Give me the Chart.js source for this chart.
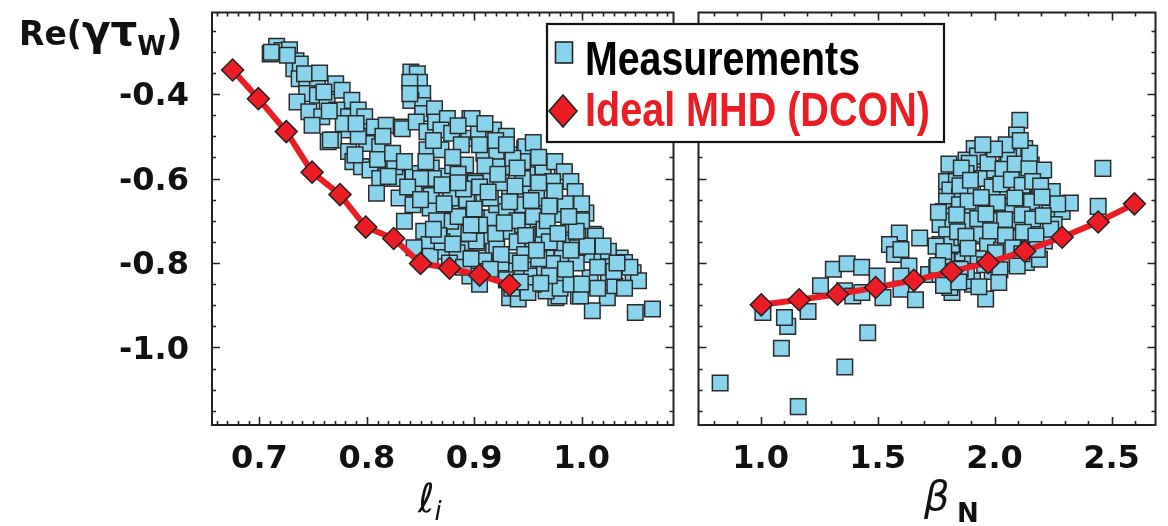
<!DOCTYPE html>
<html>
<head>
<meta charset="utf-8">
<script src="https://cdn.jsdelivr.net/npm/chart.js@4.4.1/dist/chart.umd.min.js"></script>
<style>
  html, body { margin: 0; padding: 0; background: #fff; }
  #wrap { position: relative; width: 1168px; height: 526px; overflow: hidden; }
  canvas { position: absolute; top: 0; }
  #left { left: 0; }
  #right { left: 686px; }
  #overlay { position: absolute; left: 0; top: 0; pointer-events: none; }
</style>
</head>
<body>
<div id="wrap">
  <canvas id="left" width="686" height="526"></canvas>
  <canvas id="right" width="482" height="526"></canvas>
  <svg id="overlay" width="1168" height="526">
    <text x="19" y="45" font-family="DejaVu Sans" font-weight="bold" font-size="33" fill="#111">Re(<tspan font-size="42">γτ</tspan><tspan font-size="26" dy="10">W</tspan><tspan font-size="36" dy="-10">)</tspan></text>
    <text x="418" y="512" font-family="DejaVu Sans" font-style="italic" font-size="40" fill="#111">ℓ<tspan font-size="26" dy="8">i</tspan></text>
    <text x="924" y="510" font-family="DejaVu Sans" font-style="italic" font-size="40" fill="#111">β</text>
    <text x="957" y="522" font-family="DejaVu Sans" font-weight="bold" font-size="26" fill="#111">N</text>
    <rect x="547" y="24" width="397" height="118" fill="#fff" stroke="#111" stroke-width="2.2"/>
    <rect x="555.5" y="42" width="17" height="21" fill="#89D3EC" stroke="#222" stroke-width="1.6"/>
    <polygon points="563,95 577,111 563,127 549,111" fill="#EC1C24" stroke="#222" stroke-width="1.6"/>
    <text x="585" y="75" textLength="275" lengthAdjust="spacingAndGlyphs" font-family="Liberation Sans, Arial, sans-serif" font-weight="bold" font-size="48" fill="#000">Measurements</text>
    <text x="585" y="126" textLength="345" lengthAdjust="spacingAndGlyphs" font-family="Liberation Sans, Arial, sans-serif" font-weight="bold" font-size="48" fill="#EC1C24">Ideal MHD (DCON)</text>
  </svg>
</div>
<script>
// axes
const yTicks = [-1.0, -0.8, -0.6, -0.4];
const xTicksLeft = [0.7, 0.8, 0.9, 1.0];
const xTicksRight = [1.0, 1.5, 2.0, 2.5];

// ideal MHD (DCON) curves
const dconLeftX = [0.675, 0.699, 0.725, 0.749, 0.775, 0.799, 0.825, 0.850, 0.877, 0.905, 0.933];
const dconLeftY = [-0.343, -0.411, -0.489, -0.585, -0.638, -0.715, -0.742, -0.801, -0.812, -0.829, -0.852];
const dconRightX = [1.003, 1.165, 1.329, 1.492, 1.655, 1.816, 1.973, 2.129, 2.289, 2.443, 2.598];
const dconRightY = [-0.899, -0.887, -0.874, -0.858, -0.841, -0.820, -0.799, -0.772, -0.739, -0.703, -0.660];

// measurements vs li  [li, Re(gamma tau_w)]
const measLeft = [
  [0.710,-0.305],[0.716,-0.287],[0.721,-0.297],[0.728,-0.295],[0.734,-0.321],[0.732,-0.340],[0.738,-0.329],
  [0.737,-0.364],[0.744,-0.368],[0.754,-0.376],[0.744,-0.399],[0.735,-0.419],[0.754,-0.403],[0.746,-0.442],
  [0.763,-0.419],[0.771,-0.376],[0.777,-0.391],[0.786,-0.415],[0.772,-0.438],[0.758,-0.454],[0.749,-0.474],
  [0.783,-0.454],[0.792,-0.438],[0.798,-0.454],[0.783,-0.485],[0.769,-0.509],[0.764,-0.513],[0.783,-0.536],
  [0.787,-0.560],[0.800,-0.489],[0.800,-0.517],[0.812,-0.525],[0.807,-0.478],[0.818,-0.474],[0.832,-0.478],
  [0.824,-0.552],[0.804,-0.572],[0.795,-0.572],[0.711,-0.301],[0.766,-0.509],[0.789,-0.544],[0.803,-0.580],
  [0.833,-0.482],[0.726,-0.308],[0.742,-0.352],[0.760,-0.395],[0.778,-0.470],[0.792,-0.500],[0.815,-0.500],
  [0.756,-0.350],[0.765,-0.440],[0.790,-0.470],[0.810,-0.555],[0.812,-0.600],[0.828,-0.600],
  [0.841,-0.348],[0.847,-0.352],[0.849,-0.372],[0.852,-0.399],[0.841,-0.415],[0.852,-0.427],[0.852,-0.446],
  [0.846,-0.466],[0.856,-0.489],[0.856,-0.532],[0.863,-0.435],[0.864,-0.466],[0.840,-0.372],[0.840,-0.399],
  [0.875,-0.458],[0.869,-0.485],[0.879,-0.493],[0.869,-0.532],[0.896,-0.458],[0.895,-0.505],[0.904,-0.489],
  [0.918,-0.489],[0.909,-0.540],[0.921,-0.536],[0.935,-0.544],[0.947,-0.529],[0.892,-0.568],[0.922,-0.572],
  [0.936,-0.572],[0.951,-0.591],[0.964,-0.576],[0.971,-0.607],[0.901,-0.607],[0.915,-0.603],[0.872,-0.595],
  [0.843,-0.588],[0.826,-0.572],[0.824,-0.540],[0.933,-0.635],[0.948,-0.631],[0.961,-0.627],[0.873,-0.627],
  [0.830,-0.646],[0.898,-0.458],[0.918,-0.485],[0.948,-0.525],[0.964,-0.572],[0.982,-0.584],
  [0.862,-0.510],[0.885,-0.475],[0.888,-0.520],[0.910,-0.470],[0.930,-0.500],[0.945,-0.560],[0.955,-0.515],
  [0.975,-0.560],[0.880,-0.570],[0.860,-0.575],
  [0.820,-0.595],[0.835,-0.701],[0.843,-0.662],[0.853,-0.725],[0.858,-0.756],[0.875,-0.662],[0.882,-0.725],
  [0.892,-0.768],[0.904,-0.788],[0.901,-0.611],[0.936,-0.552],[0.945,-0.662],[0.927,-0.685],[0.933,-0.725],
  [0.951,-0.709],[0.962,-0.732],[0.955,-0.764],[0.936,-0.795],[0.955,-0.811],[0.933,-0.882],[0.941,-0.885],
  [0.912,-0.740],[0.916,-0.693],[0.902,-0.693],[0.887,-0.678],[0.866,-0.678],[0.856,-0.631],[0.844,-0.623],
  [0.881,-0.638],[0.893,-0.650],[0.909,-0.646],[0.921,-0.662],[0.918,-0.772],[0.872,-0.772],[0.890,-0.788],
  [0.984,-0.584],[0.990,-0.607],[0.973,-0.607],[0.994,-0.631],[1.004,-0.682],[0.978,-0.682],[0.964,-0.666],
  [0.985,-0.744],[0.964,-0.736],[1.011,-0.732],[1.007,-0.780],[1.019,-0.791],[1.036,-0.788],[1.040,-0.799],
  [1.048,-0.823],[1.053,-0.842],[1.025,-0.835],[1.008,-0.835],[0.979,-0.838],[0.965,-0.811],[0.997,-0.878],
  [1.024,-0.882],[1.031,-0.854],[0.976,-0.882],[1.010,-0.913],[1.050,-0.917],[1.066,-0.909],[0.982,-0.780],
  [0.967,-0.788],
  [0.809,-0.635],[0.844,-0.764],[0.859,-0.784],[0.896,-0.831],[0.979,-0.878],[0.999,-0.878],[1.025,-0.772],
  [0.982,-0.842],[0.967,-0.866],[0.951,-0.831],[0.973,-0.801],[0.939,-0.819],[0.982,-0.752],[0.996,-0.764],
  [1.013,-0.736],[0.991,-0.709],[0.976,-0.685],[0.958,-0.646],[0.945,-0.709],[0.930,-0.678],[0.915,-0.646],
  [0.878,-0.646],[0.859,-0.670],[0.878,-0.701],[0.902,-0.748],[0.921,-0.764],[0.909,-0.795],[0.884,-0.776],
  [0.862,-0.600],[0.885,-0.590],[0.905,-0.620],[0.925,-0.610],[0.945,-0.600],[0.955,-0.690],[0.940,-0.750],
  [0.925,-0.800],[0.947,-0.780],[0.965,-0.720],[0.985,-0.660],[0.995,-0.800],[1.015,-0.810],[0.980,-0.860],
  [0.955,-0.850],[0.930,-0.840],[0.910,-0.820],[0.895,-0.730],[0.870,-0.750],[0.865,-0.700],[0.877,-0.800],
  [0.860,-0.640],[0.885,-0.690],[0.905,-0.710],[0.920,-0.730],[0.940,-0.700],[0.970,-0.750],[0.990,-0.770],
  [1.000,-0.700],[1.030,-0.820],[1.040,-0.860],[1.015,-0.860],[0.970,-0.830],[0.950,-0.870],[0.935,-0.860],
  [0.905,-0.850],[0.890,-0.810],[0.872,-0.660],[0.850,-0.600],[0.838,-0.620],[0.835,-0.560],[0.855,-0.560],
  [0.880,-0.550],[0.910,-0.570],[0.920,-0.510],[0.905,-0.520],[0.930,-0.520],[0.960,-0.550],[0.975,-0.630],
  [0.960,-0.610],[1.000,-0.660],[1.020,-0.760],[1.045,-0.810],[0.990,-0.850],
  [0.870,-0.615],[0.890,-0.625],[0.913,-0.632],[0.938,-0.618],[0.953,-0.652],[0.968,-0.700],[0.948,-0.735],
  [0.928,-0.705],[0.897,-0.710],[0.867,-0.735],[0.880,-0.755],[0.897,-0.790],[0.925,-0.780],[0.943,-0.800],
  [0.960,-0.790],[0.985,-0.815],[1.005,-0.760],[0.995,-0.725],[0.978,-0.730],[0.958,-0.770],[0.915,-0.815],
  [0.943,-0.845],[0.962,-0.848],[1.000,-0.850],[1.033,-0.800],[0.922,-0.590],[0.940,-0.575],[0.885,-0.610],
  [0.850,-0.650],[0.862,-0.720],[0.900,-0.672],[0.933,-0.655],[0.988,-0.690],[0.970,-0.665]
];

// measurements vs beta_N
const measRight = [
  [0.827,-1.084],[1.161,-1.140],[1.089,-1.002],[1.116,-0.950],[1.102,-0.929],[1.010,-0.917],[1.203,-0.915],
  [1.256,-0.854],[1.311,-0.815],[1.370,-0.802],[1.432,-0.810],[1.360,-1.046],[1.458,-0.965],[1.359,-0.866],
  [1.394,-0.878],[1.433,-0.870],[1.498,-0.831],[1.523,-0.882],[1.593,-0.729],[1.551,-0.756],[1.572,-0.780],
  [1.600,-0.768],[1.634,-0.807],[1.600,-0.831],[1.600,-0.862],[1.680,-0.741],[1.662,-0.887],[1.718,-0.827],
  [1.818,-0.870],[1.906,-0.850],[1.962,-0.885],[1.795,-0.846],[1.864,-0.776],[1.809,-0.760],[1.781,-0.795],
  [1.781,-0.693],[1.906,-0.736],[1.962,-0.697],[2.018,-0.739],[2.052,-0.802],[2.143,-0.716],[2.136,-0.799],
  [2.192,-0.791],[2.213,-0.748],[2.234,-0.682],[2.289,-0.678],[2.324,-0.658],[2.247,-0.631],[2.443,-0.666],
  [2.143,-0.631],[2.031,-0.631],[2.073,-0.666],[1.920,-0.662],[1.795,-0.627],[1.837,-0.662],[2.255,-0.709],
  [2.108,-0.462],[2.094,-0.497],[2.129,-0.529],[2.080,-0.540],[2.157,-0.568],[1.913,-0.529],[1.962,-0.548],
  [1.878,-0.556],[1.934,-0.591],[2.018,-0.576],[2.052,-0.560],[2.463,-0.576],[1.837,-0.584],[1.795,-0.607],
  [1.927,-0.547],[1.892,-0.564],[1.878,-0.588],[1.837,-0.607],[1.809,-0.627],[1.850,-0.642],[1.906,-0.623],
  [1.795,-0.654],[1.781,-0.678],[1.809,-0.689],[1.850,-0.662],[1.906,-0.670],[1.767,-0.709],[1.822,-0.701],
  [1.892,-0.709],[1.795,-0.733],[1.767,-0.756],[1.816,-0.756],[1.920,-0.732],[1.906,-0.788],[1.795,-0.795],
  [1.753,-0.811],[1.906,-0.842],[1.809,-0.858],[1.767,-0.827],
  [1.950,-0.600],[1.990,-0.620],[2.000,-0.580],[2.050,-0.600],[2.100,-0.600],[2.120,-0.650],[2.170,-0.670],
  [2.190,-0.620],[2.210,-0.580],[2.060,-0.680],[2.000,-0.700],[1.970,-0.760],[2.030,-0.770],[2.090,-0.740],
  [2.150,-0.760],[1.980,-0.660],[2.100,-0.700],[2.180,-0.710],[1.870,-0.700],[1.860,-0.740],[1.930,-0.790],
  [1.830,-0.820],[2.060,-0.550],[2.130,-0.580],[2.270,-0.660],[2.240,-0.720],[1.990,-0.820],[1.880,-0.820],
  [1.750,-0.760],[1.760,-0.680],
  [1.805,-0.566],[1.858,-0.575],[1.972,-0.563],[2.036,-0.578],[2.088,-0.566],[2.147,-0.575],
  [1.852,-0.617],[1.897,-0.604],[2.027,-0.613],[2.072,-0.603],[2.118,-0.616],[2.163,-0.607],[2.197,-0.618],
  [1.887,-0.654],[1.943,-0.645],[2.012,-0.657],[2.087,-0.646],[2.158,-0.655],[2.203,-0.644],
  [1.838,-0.686],[1.928,-0.695],[1.963,-0.684],[2.043,-0.697],[2.118,-0.686],[2.163,-0.696],[2.208,-0.688],
  [1.842,-0.726],[1.878,-0.737],[1.983,-0.724],[2.047,-0.735],[2.123,-0.727],[2.177,-0.736],
  [1.783,-0.773],[1.887,-0.765],[2.004,-0.776],[2.078,-0.764],[2.117,-0.778],[2.183,-0.768],
  [1.757,-0.806],[1.853,-0.815],[1.958,-0.804],[2.023,-0.816],[2.097,-0.807],
  [1.782,-0.853],[1.847,-0.845],[1.933,-0.856],[2.018,-0.846],
  [2.050,-0.520],[2.000,-0.530],[1.950,-0.520],[2.150,-0.540],[2.110,-0.510]
];

const blue = "#89D3EC";
const red = "#EC1C24";
const ink = "#222";

const frameTicks = {
  id: "frameTicks",
  afterDraw(chart, args, opts) {
    const ctx = chart.ctx;
    const a = chart.chartArea;
    const xs = chart.scales.x;
    const ys = chart.scales.y;
    ctx.save();
    ctx.strokeStyle = ink;
    ctx.lineWidth = 1.6;
    ctx.beginPath();
    for (let i = Math.ceil(xs.min / opts.xMinor - 1e-6); i * opts.xMinor <= xs.max + 1e-9; i++) {
      const v = i * opts.xMinor;
      const major = Math.abs(v / opts.xMajor - Math.round(v / opts.xMajor)) < 1e-6;
      const len = major ? 8 : 4;
      const px = Math.round(xs.getPixelForValue(v)) + 0.5;
      ctx.moveTo(px, a.bottom); ctx.lineTo(px, a.bottom - len);
      ctx.moveTo(px, a.top); ctx.lineTo(px, a.top + len);
    }
    for (let i = Math.ceil(ys.min / 0.05 - 1e-6); i * 0.05 <= ys.max + 1e-9; i++) {
      const v = i * 0.05;
      const major = Math.abs(v / 0.2 - Math.round(v / 0.2)) < 1e-6;
      const len = major ? 8 : 4;
      const py = Math.round(ys.getPixelForValue(v)) + 0.5;
      ctx.moveTo(a.left, py); ctx.lineTo(a.left + len, py);
      ctx.moveTo(a.right, py); ctx.lineTo(a.right - len, py);
    }
    ctx.stroke();
    ctx.lineWidth = 2;
    ctx.strokeRect(a.left, a.top, a.right - a.left, a.bottom - a.top);
    ctx.restore();
  },
};

// keep chart area fixed: no label overflow padding
function noPad(s) {
  s.paddingTop = 0; s.paddingBottom = 0; s.paddingLeft = 0; s.paddingRight = 0;
}

function makeChart(id, meas, dx, dy, xMin, xMax, xTicks, xMinor, xMajor, showY, pad) {
  const tickFont = { family: "DejaVu Sans", weight: "bold", size: 32 };
  return new Chart(document.getElementById(id), {
    type: "scatter",
    data: {
      datasets: [
        {
          label: "Ideal MHD (DCON)",
          data: dx.map((x, i) => ({ x: x, y: dy[i] })),
          showLine: true,
          borderColor: red,
          borderWidth: 6,
          tension: 0,
          pointStyle: "rectRot",
          pointRadius: 11,
          pointBackgroundColor: red,
          pointBorderColor: ink,
          pointBorderWidth: 1.5,
        },
        {
          label: "Measurements",
          data: meas.map((p) => ({ x: p[0], y: p[1] })),
          pointStyle: "rect",
          pointRadius: 11,
          backgroundColor: blue,
          borderColor: "#2b2b2b",
          borderWidth: 1.5,
        },
      ],
    },
    options: {
      responsive: false,
      animation: false,
      layout: { padding: pad },
      plugins: {
        legend: { display: false },
        tooltip: { enabled: false },
        frameTicks: { xMinor: xMinor, xMajor: xMajor },
      },
      scales: {
        x: {
          type: "linear",
          min: xMin,
          max: xMax,
          grid: { display: false },
          border: { display: false },
          afterBuildTicks: (s) => { s.ticks = xTicks.map((v) => ({ value: v })); },
          afterFit: (s) => { s.height = 101; noPad(s); },
          ticks: {
            font: tickFont,
            color: "#111",
            padding: 7,
            maxRotation: 0,
            autoSkip: false,
            callback: (v) => v.toFixed(1),
          },
        },
        y: {
          type: "linear",
          display: showY,
          min: -1.1835,
          max: -0.207,
          grid: { display: false },
          border: { display: false },
          afterBuildTicks: (s) => { s.ticks = yTicks.map((v) => ({ value: v })); },
          afterFit: (s) => { s.width = showY ? 212 : 0; noPad(s); },
          ticks: {
            font: tickFont,
            color: "#111",
            padding: 15,
            labelOffset: 3,
            callback: (v) => v.toFixed(1),
          },
        },
      },
    },
    plugins: [frameTicks],
  });
}

makeChart("left", measLeft, dconLeftX, dconLeftY, 0.6558, 1.0856, xTicksLeft, 0.01, 0.1, true,
  { left: 0, right: 7, top: 10, bottom: 0 });
makeChart("right", measRight, dconRightX, dconRightY, 0.7346, 2.688, xTicksRight, 0.1, 0.5, false,
  { left: 7, right: 8, top: 10, bottom: 0 });
</script>
</body>
</html>
